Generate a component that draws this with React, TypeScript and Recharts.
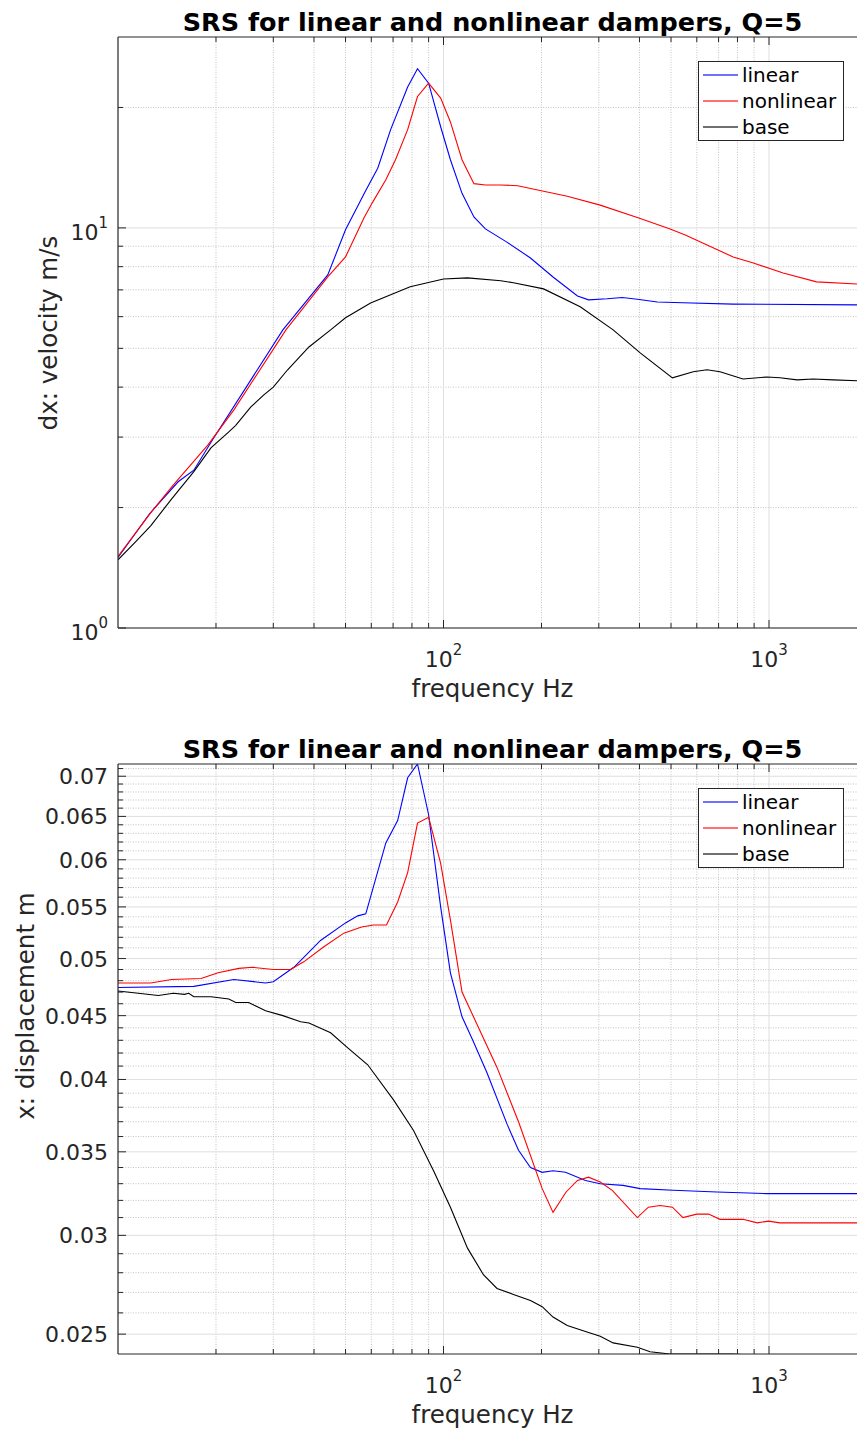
import React from 'react';
import { LineChart, Line, XAxis, YAxis, CartesianGrid, Legend } from 'recharts';

// ---------- data: velocity SRS (top) ----------
const velFreqLinear = [10, 12.5, 15.3, 17.1, 19.5, 32.1, 44.1, 50, 57.7, 62.8, 68.8, 77.6, 83.2, 90, 98, 105, 114, 124, 134.5, 157, 185, 217, 258, 279, 318, 354, 394, 454, 544, 776, 2000];
const velLinear = [1.5, 1.93, 2.32, 2.48, 2.95, 5.56, 7.63, 9.89, 12.4, 14.1, 17.6, 22.5, 25.0, 23.0, 17.9, 14.8, 12.2, 10.65, 9.94, 9.2, 8.41, 7.54, 6.76, 6.61, 6.65, 6.7, 6.63, 6.53, 6.5, 6.45, 6.42];

const velFreqNonlinear = [10, 12.6, 14.8, 18.9, 22.7, 32.8, 44.1, 50, 57, 60.6, 66.5, 71.2, 77.6, 83.2, 90, 98, 105, 114, 124, 134.5, 150, 169, 198, 240, 303, 396, 497, 553, 776, 895, 1105, 1400, 2000];
const velNonlinear = [1.51, 1.94, 2.28, 2.87, 3.51, 5.56, 7.54, 8.46, 10.6, 11.6, 13.2, 14.8, 17.6, 21.3, 23.0, 21.1, 18.4, 14.8, 12.9, 12.8, 12.8, 12.75, 12.4, 12.0, 11.4, 10.6, 9.94, 9.6, 8.46, 8.17, 7.71, 7.33, 7.22];

const velFreqBase = [10, 11.3, 12.6, 14.6, 17.1, 19.3, 21.9, 23, 25.6, 28, 30, 33.2, 38.6, 45, 50, 59.7, 79, 100, 118.5, 150, 164, 203, 263, 332, 402, 505, 585, 645, 707, 832, 986, 1080, 1220, 1365, 1575, 2000];
const velBase = [1.48, 1.64, 1.8, 2.1, 2.46, 2.82, 3.09, 3.21, 3.57, 3.82, 4.0, 4.42, 5.04, 5.56, 5.96, 6.49, 7.13, 7.45, 7.5, 7.38, 7.29, 7.04, 6.35, 5.56, 4.87, 4.22, 4.37, 4.42, 4.37, 4.19, 4.24, 4.22, 4.17, 4.19, 4.17, 4.14];

// ---------- data: displacement SRS (bottom) ----------
const dispFreqLinear = [10, 17.1, 22.7, 28.4, 30, 34.7, 41.9, 50, 54.5, 57.7, 66.5, 72.3, 77.6, 83.2, 90, 98, 105, 114, 123, 136, 157, 170, 185, 201, 217, 237, 273, 303, 356, 402, 508, 692, 986, 2000];
const dispLinear = [0.0474, 0.0475, 0.0481, 0.0478, 0.0479, 0.0492, 0.0517, 0.0534, 0.0541, 0.0543, 0.0619, 0.0645, 0.0698, 0.0716, 0.0652, 0.055, 0.0487, 0.0449, 0.043, 0.0405, 0.0368, 0.0351, 0.034, 0.0337, 0.0338, 0.0337, 0.0332, 0.033, 0.0329, 0.0327, 0.0326, 0.0325, 0.0324, 0.0324];

const dispFreqNonlinear = [10, 12.6, 14.6, 18, 20.3, 23.5, 25.9, 30, 33.9, 37.2, 42.9, 49.4, 56, 61, 66.8, 72.3, 77.6, 83.2, 90, 98, 105, 114, 146, 170, 201, 217, 238, 258, 279, 303, 330, 394, 426, 463, 505, 544, 600, 652, 707, 832, 920, 996, 1080, 1185, 2000];
const dispNonlinear = [0.0478, 0.0478, 0.0481, 0.0482, 0.0487, 0.0491, 0.0492, 0.049, 0.049, 0.0497, 0.0511, 0.0524, 0.053, 0.0532, 0.0532, 0.0555, 0.0586, 0.0642, 0.0649, 0.0596, 0.0537, 0.047, 0.0409, 0.037, 0.0327, 0.0313, 0.0325, 0.0332, 0.0334, 0.0331, 0.0326, 0.031, 0.0316, 0.0317, 0.0316, 0.031, 0.0312, 0.0312, 0.0309, 0.0309, 0.0307, 0.0308, 0.0307, 0.0307, 0.0307];

const dispFreqBase = [10, 13.3, 14.8, 16, 16.5, 17.1, 19.3, 21.9, 23, 25.2, 28.4, 32.1, 36.4, 38.6, 45, 50.8, 58.5, 70.3, 80.9, 93.2, 105, 118.5, 132.6, 146, 164, 185, 201, 217, 240, 276, 303, 332, 394, 431, 497, 613, 776, 1000, 2000];
const dispBase = [0.0471, 0.0467, 0.0469, 0.0468, 0.0469, 0.0466, 0.0466, 0.0464, 0.0461, 0.0461, 0.0454, 0.045, 0.0445, 0.0444, 0.0436, 0.0424, 0.0411, 0.0385, 0.0364, 0.0338, 0.0316, 0.0293, 0.0279, 0.0272, 0.0269, 0.0266, 0.0263, 0.0258, 0.0254, 0.0251, 0.0249, 0.0246, 0.0244, 0.0242, 0.0241, 0.0241, 0.0241, 0.024, 0.0239];

// ---------- ticks ----------
const xMajorTicks = [100, 1000];
const xMinorTicks = [20, 30, 40, 50, 60, 70, 80, 90, 200, 300, 400, 500, 600, 700, 800, 900];
const velMajorTicks = [1, 10];
const velMinorTicks = [2, 3, 4, 5, 6, 7, 8, 9, 20];
const dispMajorTicks = [0.025, 0.03, 0.035, 0.04, 0.045, 0.05, 0.055, 0.06, 0.065, 0.07];
const dispMinorTicks = [0.026, 0.027, 0.028, 0.029, 0.031, 0.032, 0.033, 0.034, 0.036, 0.037, 0.038, 0.039, 0.041, 0.042, 0.043, 0.044, 0.046, 0.047, 0.048, 0.049, 0.051, 0.052, 0.053, 0.054, 0.056, 0.057, 0.058, 0.059, 0.061, 0.062, 0.063, 0.064, 0.066, 0.067, 0.068, 0.069, 0.071];

const seriesNames = ['linear', 'nonlinear', 'base'];
const seriesColors = ['#0000ff', '#ff0000', '#000000'];
const titleText = 'SRS for linear and nonlinear dampers, Q=5';

const X_DOMAIN = [10, 2000];
const VEL_DOMAIN = [1, 30];
const DISP_DOMAIN = [0.0241, 0.0716];

const AXIS = '#262626';
const FONT = '"DejaVu Sans", sans-serif';

const zip = (f: number[], v: number[]) => f.map((x, i) => ({ f: x, v: v[i] }));
const sortNum = (a: number[]) => [...a].sort((p, q) => p - q);

const xTicks = sortNum([...xMinorTicks, ...xMajorTicks]);
const velTicks = sortNum([...velMinorTicks, ...velMajorTicks]);
const dispTicks = sortNum([...dispMinorTicks, ...dispMajorTicks]);

const isIn = (arr: number[], v: number) => arr.some((a) => Math.abs(a - v) < 1e-9);

const XTickBottom = (props: any) => {
  const { x, y, payload } = props;
  const v = payload.value;
  const major = isIn(xMajorTicks, v);
  return (
    <g>
      <line x1={x} x2={x} y1={y} y2={y - (major ? 8 : 5)} stroke={AXIS} strokeWidth={1} />
      {major && (
        <text x={x} y={y + 39} textAnchor="middle" fill={AXIS} fontSize={22} fontFamily={FONT}>
          10<tspan dy={-12} fontSize={15}>{Math.round(Math.log10(v))}</tspan>
        </text>
      )}
    </g>
  );
};

const XTickTop = (props: any) => {
  const { x, y, payload } = props;
  const major = isIn(xMajorTicks, payload.value);
  return <line x1={x} x2={x} y1={y} y2={y + (major ? 8 : 5)} stroke={AXIS} strokeWidth={1} />;
};

const VelTick = (props: any) => {
  const { x, y, payload } = props;
  const v = payload.value;
  const major = isIn(velMajorTicks, v);
  return (
    <g>
      <line x1={x} x2={x + (major ? 8 : 5)} y1={y} y2={y} stroke={AXIS} strokeWidth={1} />
      {major && (
        <text x={x - 10} y={y + 12} textAnchor="end" fill={AXIS} fontSize={22} fontFamily={FONT}>
          10<tspan dy={-12} fontSize={15}>{Math.round(Math.log10(v))}</tspan>
        </text>
      )}
    </g>
  );
};

const DispTick = (props: any) => {
  const { x, y, payload } = props;
  const v = payload.value;
  const major = isIn(dispMajorTicks, v);
  return (
    <g>
      <line x1={x} x2={x + (major ? 8 : 5)} y1={y} y2={y} stroke={AXIS} strokeWidth={1} />
      {major && (
        <text x={x - 10} y={y + 8} textAnchor="end" fill={AXIS} fontSize={22} fontFamily={FONT}>
          {String(Number(v.toFixed(3)))}
        </text>
      )}
    </g>
  );
};

const renderLegend = () => (
  <div
    style={{
      width: 146,
      height: 80,
      boxSizing: 'border-box',
      border: `1px solid ${AXIS}`,
      background: '#ffffff',
      fontFamily: FONT,
      fontSize: 20,
      color: '#000',
    }}
  >
    {seriesNames.map((n, i) => (
      <div key={n} style={{ display: 'flex', alignItems: 'center', height: 26 }}>
        <svg width={43} height={26} style={{ display: 'block', flex: '0 0 auto' }}>
          <line x1={4} x2={39} y1={13} y2={13} stroke={seriesColors[i]} strokeWidth={1.5} strokeOpacity={0.75} />
        </svg>
        <span style={{ lineHeight: '26px', whiteSpace: 'nowrap' }}>{n}</span>
      </div>
    ))}
  </div>
);

const xLabel = (props: any) => {
  const vb = props.viewBox;
  return (
    <text x={vb.x + vb.width / 2} y={vb.y + 69} textAnchor="middle" fill={AXIS} fontSize={24.5} fontFamily={FONT}>
      frequency Hz
    </text>
  );
};

const makeYLabel = (text: string, cx: number, dyCenter: number) => (props: any) => {
  const vb = props.viewBox;
  const cy = vb.y + dyCenter;
  return (
    <text
      x={cx}
      y={cy}
      transform={`rotate(-90 ${cx} ${cy})`}
      textAnchor="middle"
      dominantBaseline="central"
      fill={AXIS}
      fontSize={24.5}
      fontFamily={FONT}
    >
      {text}
    </text>
  );
};

const Title = ({ top }: { top: number }) => (
  <div
    style={{
      position: 'absolute',
      left: 118,
      width: 749,
      top,
      textAlign: 'center',
      fontFamily: FONT,
      fontWeight: 'bold',
      fontSize: 25.5,
      lineHeight: '25px',
      color: '#000',
      whiteSpace: 'nowrap',
    }}
  >
    {titleText}
  </div>
);

type PanelProps = {
  top: number;
  height: number;
  xAxisHeight: number;
  yDomain: number[];
  yTicks: number[];
  yMajor: number[];
  yMinor: number[];
  YTick: any;
  yLabel: any;
  series: { name: string; color: string; data: { f: number; v: number }[] }[];
  titleTop: number;
};

const Panel = (p: PanelProps) => (
  <div style={{ position: 'absolute', left: 0, top: p.top, width: 867, height: p.height }}>
    <LineChart width={867} height={p.height} margin={{ top: 36, right: 0, bottom: 0, left: 0 }}>
      <CartesianGrid
        horizontalValues={p.yMinor}
        verticalValues={xMinorTicks}
        stroke="#c4c4c4"
        strokeDasharray="1 1.5"
        fill="none"
      />
      <CartesianGrid horizontalValues={p.yMajor} verticalValues={xMajorTicks} stroke="#dedede" fill="none" />
      <XAxis
        dataKey="f"
        type="number"
        scale="log"
        domain={X_DOMAIN}
        allowDataOverflow
        ticks={xTicks}
        interval={0}
        tick={<XTickBottom />}
        tickSize={0}
        tickMargin={0}
        tickLine={false}
        axisLine={{ stroke: AXIS, strokeWidth: 1.2 }}
        height={p.xAxisHeight}
        label={xLabel}
      />
      <XAxis
        xAxisId="top"
        orientation="top"
        dataKey="f"
        type="number"
        scale="log"
        domain={X_DOMAIN}
        allowDataOverflow
        ticks={xTicks}
        interval={0}
        tick={<XTickTop />}
        tickSize={0}
        tickMargin={0}
        tickLine={false}
        axisLine={{ stroke: AXIS, strokeWidth: 1.2 }}
        height={1}
      />
      <YAxis
        dataKey="v"
        type="number"
        scale="log"
        domain={p.yDomain}
        allowDataOverflow
        ticks={p.yTicks}
        interval={0}
        tick={p.YTick}
        tickSize={0}
        tickMargin={0}
        tickLine={false}
        axisLine={{ stroke: AXIS, strokeWidth: 1.2 }}
        width={118}
        label={p.yLabel}
      />
      {p.series.map((s) => (
        <Line
          key={s.name}
          name={s.name}
          data={s.data}
          dataKey="v"
          type="linear"
          stroke={s.color}
          strokeWidth={1.1}
          dot={false}
          activeDot={false}
          isAnimationActive={false}
        />
      ))}
      <Legend
        layout="vertical"
        align="center"
        verticalAlign="middle"
        content={renderLegend}
        wrapperStyle={{ left: 698, top: 61, width: 146, height: 80 }}
      />
    </LineChart>
    <Title top={p.titleTop} />
  </div>
);

export default function App() {
  const velSeries = [
    { name: seriesNames[0], color: seriesColors[0], data: zip(velFreqLinear, velLinear) },
    { name: seriesNames[1], color: seriesColors[1], data: zip(velFreqNonlinear, velNonlinear) },
    { name: seriesNames[2], color: seriesColors[2], data: zip(velFreqBase, velBase) },
  ];
  const dispSeries = [
    { name: seriesNames[0], color: seriesColors[0], data: zip(dispFreqLinear, dispLinear) },
    { name: seriesNames[1], color: seriesColors[1], data: zip(dispFreqNonlinear, dispNonlinear) },
    { name: seriesNames[2], color: seriesColors[2], data: zip(dispFreqBase, dispBase) },
  ];
  return (
    <div style={{ position: 'absolute', left: 0, top: 0, width: 857, height: 1432, overflow: 'hidden', background: '#fff' }}>
      <Panel
        top={0}
        height={710}
        xAxisHeight={82}
        yDomain={VEL_DOMAIN}
        yTicks={velTicks}
        yMajor={velMajorTicks}
        yMinor={velMinorTicks}
        YTick={<VelTick />}
        yLabel={makeYLabel('dx: velocity m/s', 48, 296)}
        series={velSeries}
        titleTop={10}
      />
      <Panel
        top={727}
        height={705}
        xAxisHeight={78}
        yDomain={DISP_DOMAIN}
        yTicks={dispTicks}
        yMajor={dispMajorTicks}
        yMinor={dispMinorTicks}
        YTick={<DispTick />}
        yLabel={makeYLabel('x: displacement m', 25, 242)}
        series={dispSeries}
        titleTop={10}
      />
    </div>
  );
}
